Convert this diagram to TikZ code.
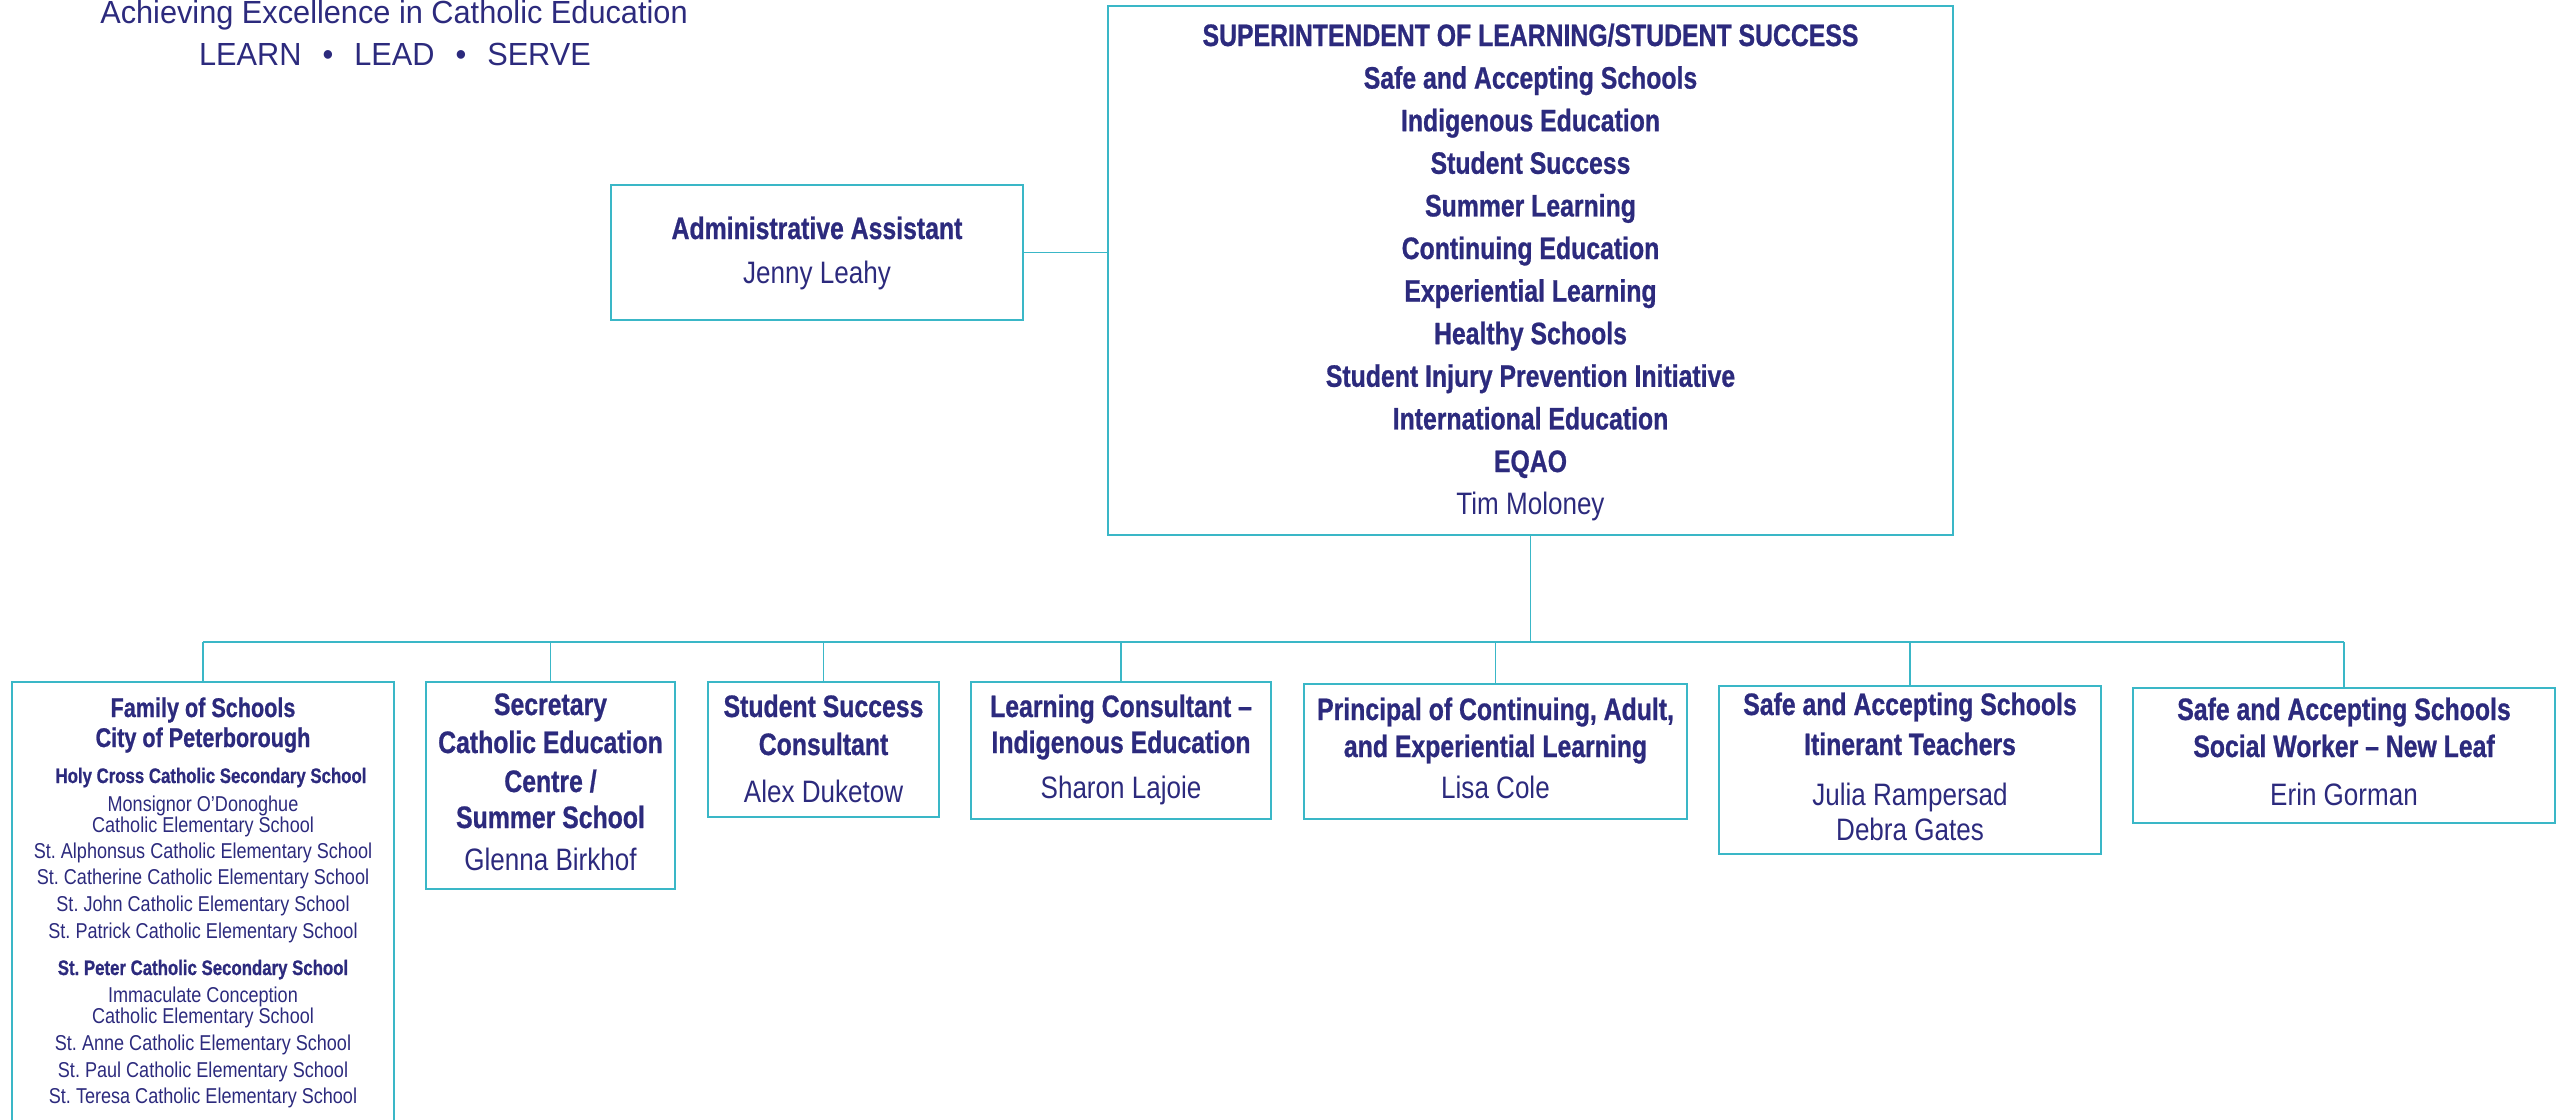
\documentclass[tikz,border=0pt]{standalone}
\usepackage{fontspec}
\setmainfont{Liberation Sans}
\newfontfamily\condB{Liberation Sans Bold}[FakeStretch=0.80, FakeBold=0.8]
\newfontfamily\condR{Liberation Sans}[FakeStretch=0.84]
\newfontfamily\headR{Liberation Sans}[FakeStretch=0.96]
\definecolor{navyt}{RGB}{44,42,125}
\definecolor{linec}{RGB}{58,183,199}
\frenchspacing
\tikzset{
  box/.style={draw=linec, line width=1.6pt, rectangle, inner sep=0pt, outer sep=0pt},
  conn/.style={draw=linec, line width=1.6pt},
  lbl/.style={anchor=base, inner sep=0pt, outer sep=0pt, text=navyt},
  bt/.style={lbl, font=\condB\fontsize{31}{31}\selectfont},
  rt/.style={lbl, font=\condR\fontsize{31}{31}\selectfont},
  fb/.style={lbl, font=\condB\fontsize{27}{27}\selectfont},
  sb/.style={lbl, font=\condB\fontsize{21}{21}\selectfont},
  sr/.style={lbl, font=\condR\fontsize{21.5}{21.5}\selectfont},
  hd/.style={lbl, font=\headR\fontsize{32}{32}\selectfont},
}
\begin{document}
\begin{tikzpicture}[x=1pt,y=-1pt]
\useasboundingbox (0,0) rectangle (2564,1119);

% header
\node[hd] (h1) at (394,23) {Achieving Excellence in Catholic Education};
\node[hd] (h2) at (395,65) {LEARN\hspace{21pt}•\hspace{21pt}LEAD\hspace{21pt}•\hspace{21pt}SERVE};

% boxes
\node[box, minimum width=845pt, minimum height=529pt] (top) at (1530.5,270.5) {};
\node[box, minimum width=412pt, minimum height=135pt] (admin) at (817,252.5) {};
\node[box, minimum width=382pt, minimum height=458pt] (fam) at (203,911) {};
\node[box, minimum width=249pt, minimum height=207pt] (sec) at (550.5,785.5) {};
\node[box, minimum width=231pt, minimum height=135pt] (ssc) at (823.5,749.5) {};
\node[box, minimum width=300pt, minimum height=137pt] (lc) at (1121,750.5) {};
\node[box, minimum width=383pt, minimum height=135pt] (pr) at (1495.5,751.5) {};
\node[box, minimum width=382pt, minimum height=168pt] (it) at (1910,770) {};
\node[box, minimum width=422pt, minimum height=135pt] (sw) at (2344,755.5) {};

% connectors
\coordinate (busL) at (203,642);
\coordinate (busR) at (2344,642);
\draw[conn] (admin.east) -- (admin.east -| top.west);
\draw[conn] (top.south) -- (top.south |- busL);
\draw[conn] (busL) -- (busR);
\foreach \n in {fam,sec,ssc,lc,pr,it,sw}{
  \draw[conn] (\n.north) -- (\n.north |- busL);
}

% top box text
\node[bt] (t1) at (1530.5,46) {SUPERINTENDENT OF LEARNING/STUDENT SUCCESS};
\node[bt] (t2) at (1530.5,88.6) {Safe and Accepting Schools};
\node[bt] (t3) at (1530.5,131.2) {Indigenous Education};
\node[bt] (t4) at (1530.5,173.8) {Student Success};
\node[bt] (t5) at (1530.5,216.4) {Summer Learning};
\node[bt] (t6) at (1530.5,259) {Continuing Education};
\node[bt] (t7) at (1530.5,301.6) {Experiential Learning};
\node[bt] (t8) at (1530.5,344.2) {Healthy Schools};
\node[bt] (t9) at (1530.5,386.8) {Student Injury Prevention Initiative};
\node[bt] (t10) at (1530.5,429.4) {International Education};
\node[bt] (t11) at (1530.5,472) {EQAO};
\node[rt] (t12) at (1530.5,514.6) {Tim Moloney};

% admin text
\node[bt] (a1) at (817,239) {Administrative Assistant};
\node[rt] (a2) at (817,283) {Jenny Leahy};

% family of schools text
\node[fb] (f1) at (203,717) {Family of Schools};
\node[fb] (f2) at (203,747) {City of Peterborough};
\node[sb] (f3) at (211,783) {Holy Cross Catholic Secondary School};
\node[sr] (f4) at (203,811) {Monsignor O’Donoghue};
\node[sr] (f5) at (203,832) {Catholic Elementary School};
\node[sr] (f6) at (203,858) {St. Alphonsus Catholic Elementary School};
\node[sr] (f7) at (203,884) {St. Catherine Catholic Elementary School};
\node[sr] (f8) at (203,911) {St. John Catholic Elementary School};
\node[sr] (f9) at (203,938) {St. Patrick Catholic Elementary School};
\node[sb] (f10) at (203,975) {St. Peter Catholic Secondary School};
\node[sr] (f11) at (203,1002) {Immaculate Conception};
\node[sr] (f12) at (203,1023) {Catholic Elementary School};
\node[sr] (f13) at (203,1050) {St. Anne Catholic Elementary School};
\node[sr] (f14) at (203,1077) {St. Paul Catholic Elementary School};
\node[sr] (f15) at (203,1103) {St. Teresa Catholic Elementary School};

% secretary
\node[bt] (s1) at (550.5,715) {Secretary};
\node[bt] (s2) at (550.5,753) {Catholic Education};
\node[bt] (s3) at (550.5,792) {Centre /};
\node[bt] (s4) at (550.5,828) {Summer School};
\node[rt] (s5) at (550.5,870) {Glenna Birkhof};

% student success consultant
\node[bt] (c1) at (823.5,717) {Student Success};
\node[bt] (c2) at (823.5,755) {Consultant};
\node[rt] (c3) at (823.5,802) {Alex Duketow};

% learning consultant
\node[bt] (l1) at (1121,717) {Learning Consultant –};
\node[bt] (l2) at (1121,753) {Indigenous Education};
\node[rt] (l3) at (1121,798) {Sharon Lajoie};

% principal
\node[bt] (p1) at (1495.5,720) {Principal of Continuing, Adult,};
\node[bt] (p2) at (1495.5,757) {and Experiential Learning};
\node[rt] (p3) at (1495.5,798) {Lisa Cole};

% itinerant teachers
\node[bt] (i1) at (1910,715) {Safe and Accepting Schools};
\node[bt] (i2) at (1910,755) {Itinerant Teachers};
\node[rt] (i3) at (1910,805) {Julia Rampersad};
\node[rt] (i4) at (1910,840) {Debra Gates};

% social worker
\node[bt] (w1) at (2344,720) {Safe and Accepting Schools};
\node[bt] (w2) at (2344,757) {Social Worker – New Leaf};
\node[rt] (w3) at (2344,805) {Erin Gorman};
\end{tikzpicture}
\end{document}
